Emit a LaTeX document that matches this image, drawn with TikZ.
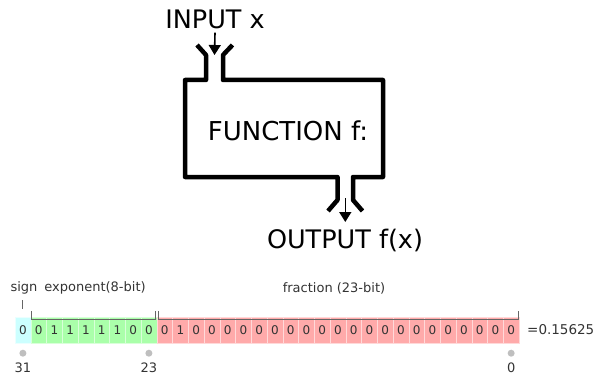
\documentclass[tikz,border=0pt]{standalone}
\usepackage{fontspec}
\setmainfont{DejaVu Sans}
\usetikzlibrary{arrows.meta}
\definecolor{signcol}{HTML}{CCFFFF}
\definecolor{expcol}{HTML}{AAFFAA}
\definecolor{fraccol}{HTML}{FFAAAA}
\definecolor{labelgray}{HTML}{333333}
\begin{document}
\begin{tikzpicture}[x=1pt,y=-1pt]
        \tikzstyle{big}=[font=\fontsize{25.5}{27}\selectfont,inner sep=1pt]
        \tikzstyle{pipe}=[draw, line width=4.5pt, line join=round]
        \tikzstyle{flow}=[draw, line width=1.6pt, -{Triangle[width=12pt,length=10pt]}]
        \tikzstyle{bit}=[minimum width=15.75pt,minimum height=26pt,inner sep=0pt,font=\fontsize{12}{14}\selectfont,text=labelgray]
        \tikzstyle{small}=[font=\fontsize{13}{15}\selectfont,text=labelgray,inner sep=0pt]
        \tikzstyle{brace}=[draw=black!60, line width=1pt]
        \tikzstyle{dot}=[circle,fill=black!25,inner sep=0pt,minimum size=7pt]
        \useasboundingbox (0,0) rectangle (596,377);
        % machine
        \node [big] (input) at (215,19) {INPUT x};
        \node [big,font=\fontsize{26}{28}\selectfont] (func) at (288,131) {FUNCTION f:};
        \node [big] (output) at (345,240) {OUTPUT f(x)};
        \coordinate (intip) at (214.5,55);
        \coordinate (outsrc) at (345.3,198);
        \coordinate (outtip) at (345.3,222);
        \path[pipe] (197,45) -- (206,55) -- (206,80) -- (185,80) -- (185,177)
                -- (337.5,177) -- (337.5,200) -- (328,211);
        \path[pipe] (232.5,45) -- (223,55) -- (223,80) -- (383,80) -- (383,177)
                -- (353,177) -- (353,200) -- (362.5,211);
        \path[flow] ([yshift=-3pt]input.south) -- (intip);
        \path[flow] (outsrc) -- (outtip);
        % bits
        \foreach \b [count=\i from 0] in {0}
                \node [bit,fill=signcol,draw=white!60!signcol] (b\i) at (22.9+15.75*\i,330) {\b};
        \foreach \b [count=\i from 1] in {0,1,1,1,1,1,0,0}
                \node [bit,fill=expcol,draw=white!55!expcol] (b\i) at (22.9+15.75*\i,330) {\b};
        \foreach \b [count=\i from 9] in {0,1,0,0,0,0,0,0,0,0,0,0,0,0,0,0,0,0,0,0,0,0,0}
                \node [bit,fill=fraccol,draw=white!55!fraccol] (b\i) at (22.9+15.75*\i,330) {\b};
        \node [small,anchor=west,font=\fontsize{13.5}{15}\selectfont] (value) at (527,330) {=0.15625};
        % field labels
        \node [small] (signlbl) at (24,288) {sign};
        \node [small] (explbl) at (95,288) {exponent(8-bit)};
        \node [small] (fraclbl) at (334,288) {fraction (23-bit)};
        \path[brace] ([yshift=8pt]b0.north) -- ([yshift=17pt]b0.north);
        \path[brace] ([xshift=1pt,yshift=6pt]b1.north west) -- ++(0,9) -| ([xshift=-1pt,yshift=6pt]b8.north east);
        \path[brace] ([xshift=1.5pt,yshift=6pt]b9.north west) -- ++(0,9) -| ([xshift=-0.5pt,yshift=6pt]b31.north east);
        % bit positions
        \foreach \i/\n in {0/31,8/23,31/0} {
                \node [dot] (d\i) at ([yshift=-10pt]b\i.south) {};
                \node [small,font=\fontsize{13}{15}\selectfont] (n\i) at ([yshift=-15pt]d\i) {\n};
        }
\end{tikzpicture}
\end{document}
